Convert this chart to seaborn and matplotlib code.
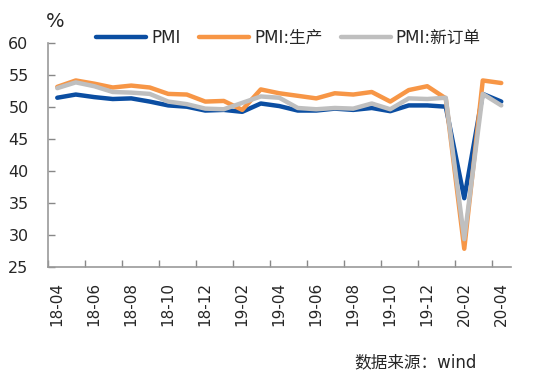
import numpy as np
import pandas as pd
import seaborn as sns
import matplotlib.pyplot as plt

months = ['18-04', '18-05', '18-06', '18-07', '18-08', '18-09', '18-10', '18-11', '18-12',
          '19-01', '19-02', '19-03', '19-04', '19-05', '19-06', '19-07', '19-08', '19-09',
          '19-10', '19-11', '19-12', '20-01', '20-02', '20-03', '20-04']

pmi = [51.4, 51.9, 51.5, 51.2, 51.3, 50.8, 50.2, 50.0, 49.4, 49.5, 49.2, 50.5, 50.1,
       49.4, 49.4, 49.7, 49.5, 49.8, 49.3, 50.2, 50.2, 50.0, 35.7, 52.0, 50.8]
produccion = [53.1, 54.1, 53.6, 53.0, 53.3, 53.0, 52.0, 51.9, 50.8, 50.9, 49.5, 52.7, 52.1,
              51.7, 51.3, 52.1, 51.9, 52.3, 50.8, 52.6, 53.2, 51.3, 27.8, 54.1, 53.7]
pedidos = [52.9, 53.8, 53.2, 52.3, 52.2, 52.0, 50.8, 50.4, 49.7, 49.6, 50.6, 51.6, 51.4,
           49.8, 49.6, 49.8, 49.7, 50.5, 49.6, 51.3, 51.2, 51.4, 29.3, 52.0, 50.2]

series = ['PMI', 'PMI:生产', 'PMI:新订单']
colores = ['#0b4ea2', '#f79646', '#bfbfbf']

df = pd.DataFrame({'idx': list(range(len(months))) * 3,
                   'valor': pmi + produccion + pedidos,
                   'serie': np.repeat(series, len(months))})

sns.set_style("white")
plt.rcParams['font.family'] = ['DejaVu Sans', 'Noto Sans CJK SC']

fig = plt.figure(figsize=(5.5, 3.83), dpi=100)
ax = fig.add_axes([0.0873, 0.3037, 0.8409, 0.5848])

sns.lineplot(data=df, x='idx', y='valor', hue='serie', hue_order=series,
             palette=colores, linewidth=3.2, ax=ax)

ax.set_xlim(-0.5, len(months) - 0.5)
ax.set_ylim(25, 60)
ax.set_yticks(range(25, 61, 5))
ax.set_xticks(range(0, len(months), 2))
ax.set_xticklabels(months[::2], rotation=90)
ax.set_xticks(np.arange(-0.5, len(months) - 1, 2), minor=True)
ax.set_xlabel('')
ax.set_ylabel('')

ax.tick_params(axis='x', which='major', length=0, labelsize=11, pad=11)
ax.tick_params(axis='x', which='minor', direction='in', length=5, color='#888888', width=1, bottom=True)
ax.tick_params(axis='y', direction='in', length=5, color='#888888', width=1, labelsize=11.5, pad=14, left=True)

for s in ['top', 'right']:
    ax.spines[s].set_visible(False)
for s in ['left', 'bottom']:
    ax.spines[s].set_color('#999999')
    ax.spines[s].set_linewidth(1.2)

ax.legend(loc='center', bbox_to_anchor=(0.52, 1.02), ncol=3, frameon=False,
          fontsize=12, handlelength=3.0, columnspacing=1.1, handletextpad=0.3)

fig.text(0.1, 0.945, '%', fontsize=14, ha='center', va='center')
fig.text(0.756, 0.055, '数据来源：wind', fontsize=12, ha='center', va='center')

fig.savefig('out.png', dpi=100)
